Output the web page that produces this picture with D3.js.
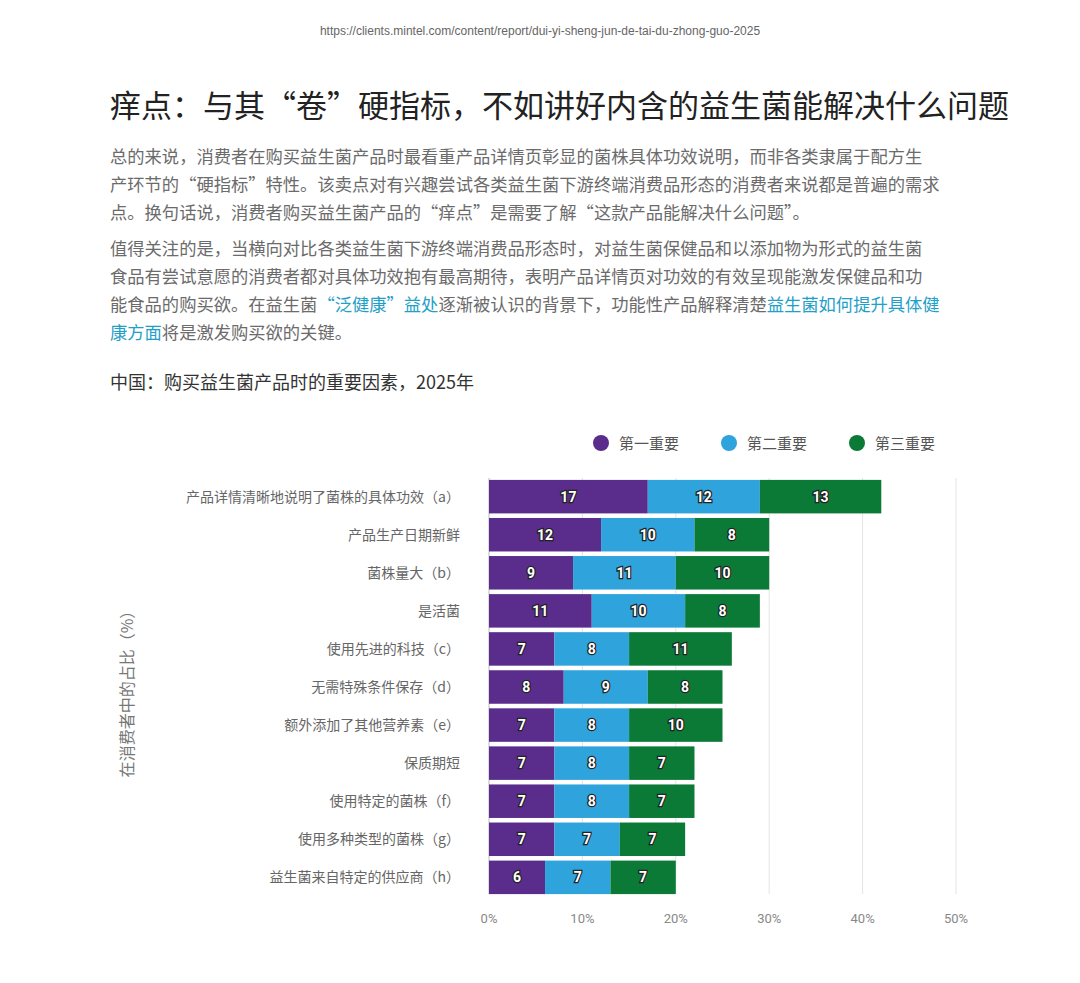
<!DOCTYPE html>
<html><head><meta charset="utf-8">
<script src="https://cdn.jsdelivr.net/npm/d3@7"></script>
<style>body{margin:0;background:#fff}svg{display:block;font-family:"Noto Sans CJK SC","Noto Sans",sans-serif}</style>
</head><body><svg id="c" width="1080" height="983"></svg>
<script>
const categories=["产品详情清晰地说明了菌株的具体功效（a）","产品生产日期新鲜","菌株量大（b）","是活菌","使用先进的科技（c）","无需特殊条件保存（d）","额外添加了其他营养素（e）","保质期短","使用特定的菌株（f）","使用多种类型的菌株（g）","益生菌来自特定的供应商（h）"];
const first=[17,12,9,11,7,8,7,7,7,7,6];
const second=[12,10,11,10,8,9,8,8,8,7,7];
const third=[13,8,10,8,11,8,10,7,7,7,7];
const seriesNames=["第一重要","第二重要","第三重要"];
const colors=["#5a2d8c","#2fa3db","#0b7a36"];
const ticks=[0,10,20,30,40,50];
const para1=["总的来说，消费者在购买益生菌产品时最看重产品详情页彰显的菌株具体功效说明，而非各类隶属于配方生","产环节的“硬指标”特性。该卖点对有兴趣尝试各类益生菌下游终端消费品形态的消费者来说都是普遍的需求","点。换句话说，消费者购买益生菌产品的“痒点”是需要了解“这款产品能解决什么问题”。"];
const para2=[[["值得关注的是，当横向对比各类益生菌下游终端消费品形态时，对益生菌保健品和以添加物为形式的益生菌",0]],[["食品有尝试意愿的消费者都对具体功效抱有最高期待，表明产品详情页对功效的有效呈现能激发保健品和功",0]],[["能食品的购买欲。在益生菌",0],["“泛健康”益处",1],["逐渐被认识的背景下，功能性产品解释清楚",0],["益生菌如何提升具体健",1]],[["康方面",1],["将是激发购买欲的关键。",0]]];

const svg=d3.select("#c");
svg.append("text").attr("x",540).attr("y",35).attr("text-anchor","middle").attr("font-size",12).attr("fill","#666").attr("font-family","Liberation Sans, Arial").text("https://clients.mintel.com/content/report/dui-yi-sheng-jun-de-tai-du-zhong-guo-2025");
svg.append("text").attr("x",110).attr("y",117).attr("font-size",31).attr("fill","#222").text("痒点：与其“卷”硬指标，不如讲好内含的益生菌能解决什么问题");
para1.forEach((l,i)=>svg.append("text").attr("x",110).attr("y",163+i*28).attr("font-size",17.3).attr("fill","#6b6b6b").text(l));
para2.forEach((l,i)=>{const t=svg.append("text").attr("x",110).attr("y",255+i*28).attr("font-size",17.3);
 l.forEach(s=>t.append("tspan").attr("fill",s[1]?"#1fa0c8":"#6b6b6b").text(s[0]));});
svg.append("text").attr("x",110).attr("y",389).attr("font-size",18).attr("fill","#333").text("中国：购买益生菌产品时的重要因素，2025年");

const x=d3.scaleLinear().domain([0,50]).range([489,956]);
const y=d3.scaleBand().domain(categories).range([478,896]).paddingInner(0.12).paddingOuter(0.05);
const g=svg.append("g");
g.selectAll(".grid").data(ticks).join("line").attr("x1",d=>x(d)).attr("x2",d=>x(d)).attr("y1",478).attr("y2",894).attr("stroke",d=>d===0?"#bbb":"#e4e4e4");
g.selectAll(".tk").data(ticks).join("text").attr("x",d=>x(d)).attr("y",923).attr("text-anchor","middle").attr("font-size",13).attr("fill","#888").attr("font-family","Roboto").text(d=>d+"%");
const data=categories.map((c,i)=>({c,v:[first[i],second[i],third[i]]}));
const stack=d3.stack().keys([0,1,2]).value((d,k)=>d.v[k])(data);
stack.forEach((s,k)=>{
 g.selectAll(".b"+k).data(s).join("rect").attr("x",d=>x(d[0])).attr("width",d=>x(d[1])-x(d[0])).attr("y",d=>y(d.data.c)).attr("height",y.bandwidth()).attr("fill",colors[k]);
 g.selectAll(".l"+k).data(s).join("text").attr("x",d=>(x(d[0])+x(d[1]))/2).attr("y",d=>y(d.data.c)+y.bandwidth()/2+5).attr("text-anchor","middle").attr("font-size",14).attr("font-weight","bold").attr("font-family","Roboto").attr("fill","#fff").attr("stroke","#222").attr("stroke-width",2.5).attr("paint-order","stroke").text(d=>d[1]-d[0]);
});
g.selectAll(".cat").data(categories).join("text").attr("x",460).attr("y",d=>y(d)+y.bandwidth()/2+5).attr("text-anchor","end").attr("font-size",14).attr("fill","#666").text(d=>d);
svg.append("text").attr("transform","translate(133,690) rotate(-90)").attr("text-anchor","middle").attr("font-size",16).attr("fill","#777").text("在消费者中的占比（%）");
const lx=[601,729,857];
seriesNames.forEach((n,i)=>{svg.append("circle").attr("cx",lx[i]).attr("cy",443).attr("r",8).attr("fill",colors[i]);
 svg.append("text").attr("x",lx[i]+18).attr("y",449).attr("font-size",15).attr("fill","#555").text(n);});
</script></body></html>
